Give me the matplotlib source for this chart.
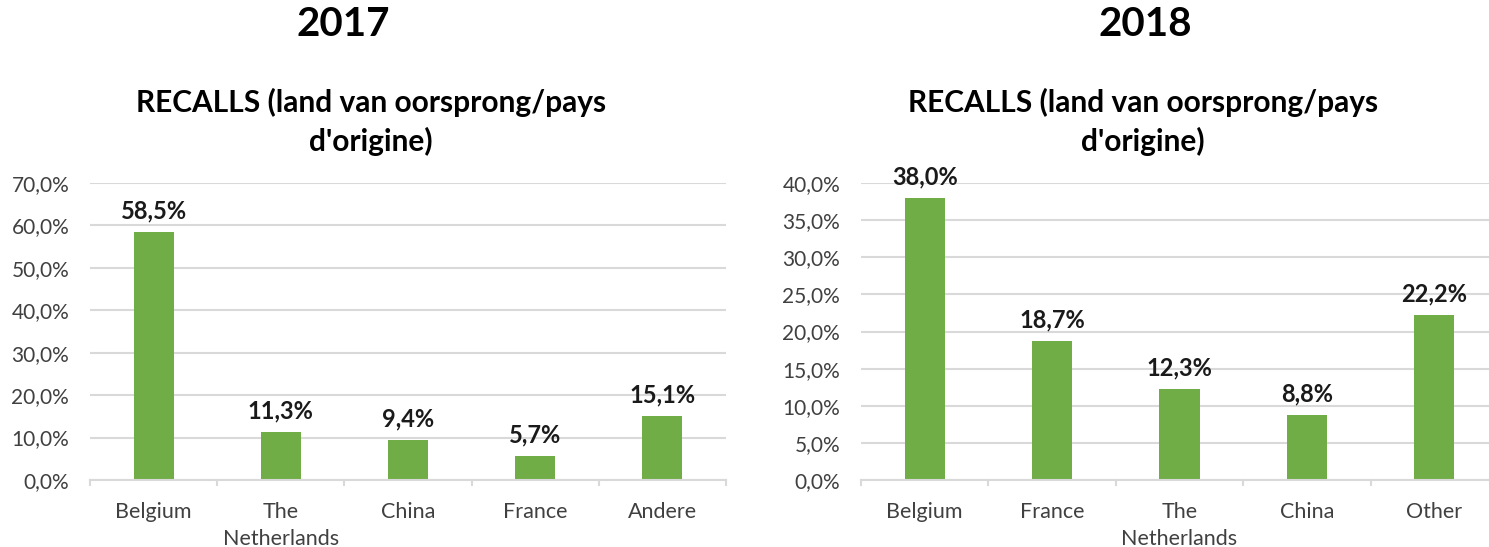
import matplotlib
matplotlib.use("Agg")
import matplotlib.pyplot as plt
from matplotlib.ticker import MultipleLocator, FuncFormatter

# data
cats_2017 = ["Belgium", "The\nNetherlands", "China", "France", "Andere"]
vals_2017 = [58.5, 11.3, 9.4, 5.7, 15.1]
cats_2018 = ["Belgium", "France", "The\nNetherlands", "China", "Other"]
vals_2018 = [38.0, 18.7, 12.3, 8.8, 22.2]
subtitle = "RECALLS (land van oorsprong/pays\nd'origine)"

plt.rcParams["font.family"] = ["Lato", "DejaVu Sans"]

GREEN = "#70AD47"
GRID = "#D9D9D9"
TICK = "#404040"

W, H = 1489, 547
fig = plt.figure(figsize=(W / 100, H / 100), dpi=100)


def px_axes(x0, x1, ytop, ybot):
    return fig.add_axes([x0 / W, (H - ybot) / H, (x1 - x0) / W, (ybot - ytop) / H])


def fmt_pct(v, pos=None):
    return f"{v:.1f}%".replace(".", ",")


def draw_panel(ax, cats, vals, ymax, step):
    x = list(range(len(cats)))
    ax.bar(x, vals, width=0.315, color=GREEN, zorder=3)
    ax.set_xlim(-0.5, len(cats) - 0.5)
    ax.set_ylim(0, ymax)
    ax.yaxis.set_major_locator(MultipleLocator(step))
    ax.yaxis.set_major_formatter(FuncFormatter(fmt_pct))
    ax.grid(axis="y", color=GRID, linewidth=1.5, zorder=0)
    for s in ["top", "right", "left"]:
        ax.spines[s].set_visible(False)
    ax.spines["bottom"].set_color(GRID)
    ax.spines["bottom"].set_linewidth(1.5)
    ax.spines["bottom"].set_zorder(4)
    ax.tick_params(axis="y", length=0, pad=15, labelsize=15, labelcolor=TICK)
    ax.set_xticks(x)
    ax.set_xticklabels(cats, fontsize=15.5, color=TICK, linespacing=1.45)
    ax.tick_params(axis="x", length=0, pad=16)
    # boundary tick marks
    for b in range(len(cats) + 1):
        ax.plot([b - 0.5, b - 0.5], [0, -ymax * 0.018], color=GRID, lw=1.5,
                clip_on=False, zorder=4)
    for xi, v in zip(x, vals):
        ax.annotate(fmt_pct(v), (xi, v), xytext=(0, 7), textcoords="offset points",
                    ha="center", va="bottom", fontsize=17, fontweight="bold",
                    color="#1a1a1a")


ax1 = px_axes(90, 726, 183, 480)
draw_panel(ax1, cats_2017, vals_2017, 70, 10)
ax2 = px_axes(861, 1498, 183, 480)
draw_panel(ax2, cats_2018, vals_2018, 40, 5)

fig.text(343 / W, 1 - 25 / H, "2017", ha="center", va="center", fontsize=29,
         fontweight="bold", color="#000000")
fig.text(1145 / W, 1 - 25 / H, "2018", ha="center", va="center", fontsize=29,
         fontweight="bold", color="#000000")
fig.text(371 / W, 1 - 122 / H, subtitle, ha="center", va="center", fontsize=21.5,
         fontweight="bold", color="#000000", linespacing=1.38)
fig.text(1143 / W, 1 - 122 / H, subtitle, ha="center", va="center", fontsize=21.5,
         fontweight="bold", color="#000000", linespacing=1.38)

fig.savefig("out.png", dpi=100)
